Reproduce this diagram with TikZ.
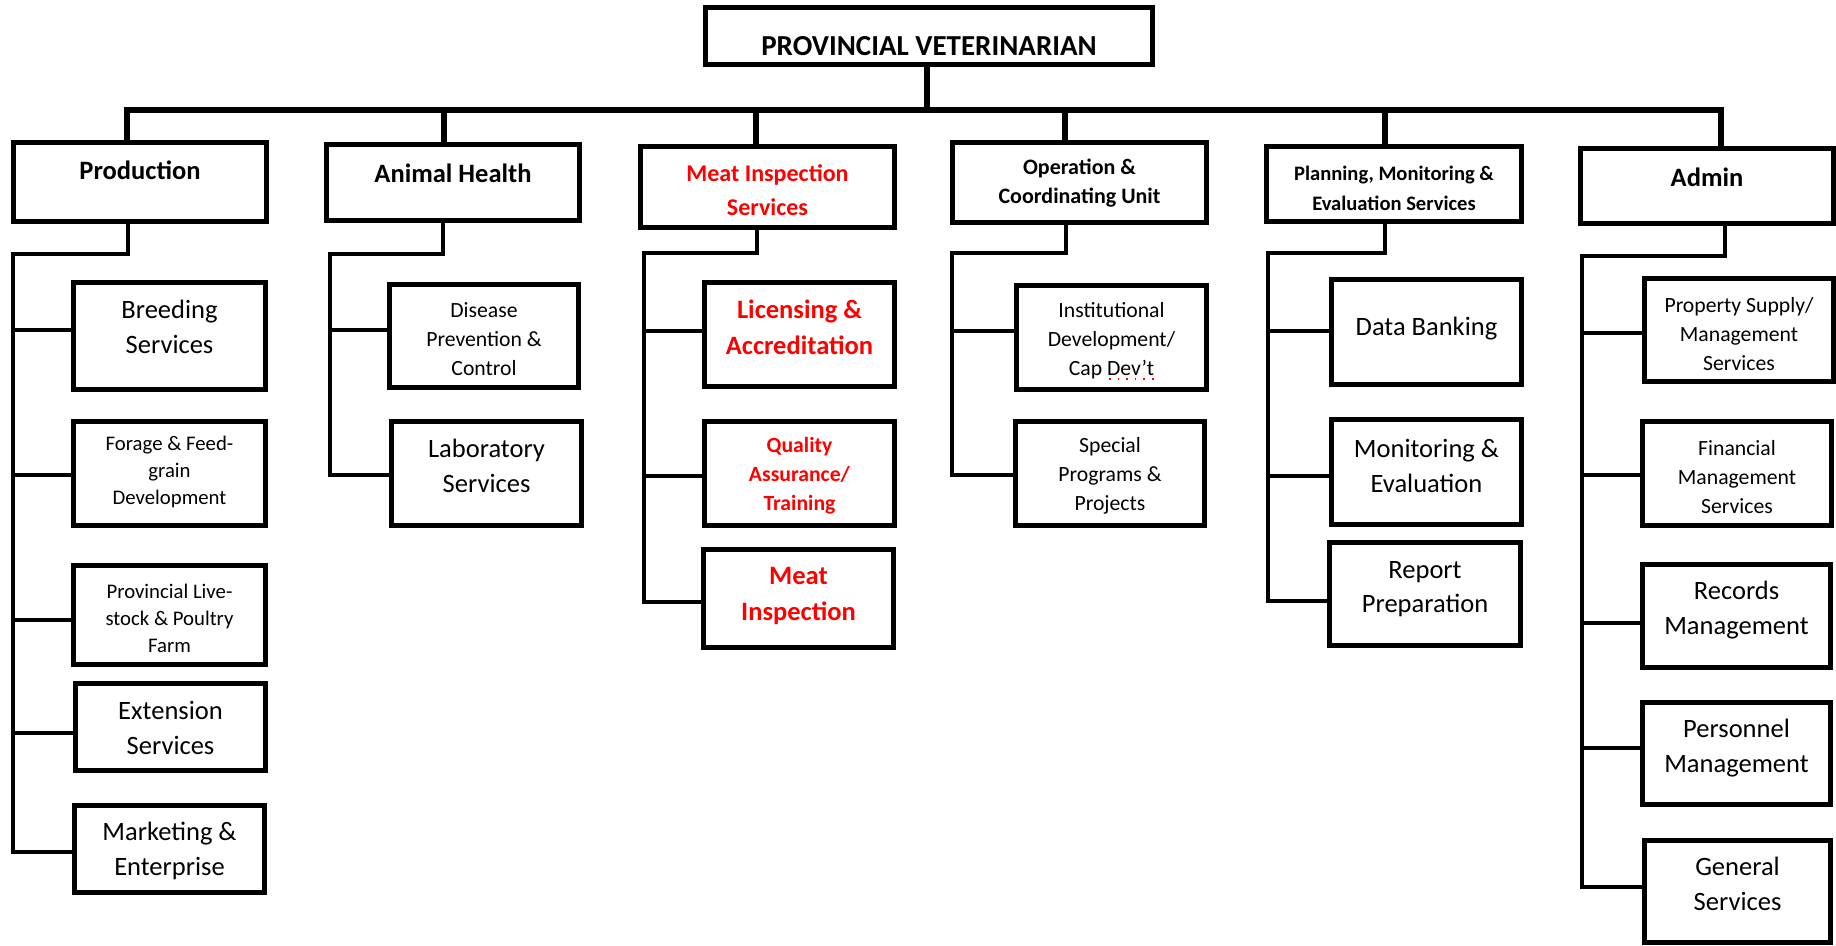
\documentclass[tikz,border=0pt]{standalone}
\usepackage{fontspec}
\setmainfont{Carlito}
\usetikzlibrary{fit}

\definecolor{alertred}{RGB}{255,0,0}

% box from outer corners: style, name, x1, y1, x2, y2 (pixel units, y downwards)
\newcommand\orgbox[6]{%
  \node[#1, fit={(#3+2.6,#4+2.6) (#5-2.6,#6-2.6)}] (#2) {};}

\tikzset{
  headbox/.style={draw, line width=1.5pt, inner sep=0pt, rectangle},
  unitbox/.style={draw, line width=1.42pt, inner sep=0pt, rectangle},
  trunk/.style={line width=1.45pt},
  branch/.style={line width=1.15pt},
  lbl/.style={align=center, inner sep=0pt, text=black},
  toplbl/.style={lbl, font=\bfseries\fontsize{8.25pt}{10pt}\selectfont},
  headA/.style={lbl, font=\bfseries\fontsize{7.54pt}{9.4pt}\selectfont},
  headB/.style={lbl, font=\bfseries\fontsize{6.83pt}{9.5pt}\selectfont},
  headC/.style={lbl, font=\bfseries\fontsize{6.26pt}{8.3pt}\selectfont},
  headD/.style={lbl, font=\bfseries\fontsize{5.85pt}{8.5pt}\selectfont},
  bigl/.style={lbl, font=\fontsize{7.54pt}{9.8pt}\selectfont},
  smalll/.style={lbl, font=\fontsize{6.17pt}{8.3pt}\selectfont},
  tinyl/.style={lbl, font=\fontsize{5.9pt}{7.7pt}\selectfont},
  redbig/.style={lbl, text=alertred, font=\bfseries\fontsize{7.54pt}{10.2pt}\selectfont},
  redsmall/.style={lbl, text=alertred, font=\bfseries\fontsize{6.17pt}{8.3pt}\selectfont},
}

\begin{document}
\begin{tikzpicture}[x=0.01cm, y=-0.01cm]
  \useasboundingbox (0,0) rectangle (1836,945);
  \fill[white] (0,0) rectangle (1836,945);

  % ---- head office ----
  \orgbox{headbox}{pv}{703}{5}{1155}{67}
  \node[toplbl] at (pv.center |- 0,46) {PROVINCIAL VETERINARIAN};

  % ---- divisions ----
  \orgbox{headbox}{prod}{11}{140}{269}{224}
  \orgbox{headbox}{anim}{324}{142}{582}{223}
  \orgbox{headbox}{meat}{638}{144}{897}{230}
  \orgbox{headbox}{oper}{950}{140}{1209}{225}
  \orgbox{headbox}{plan}{1264}{144}{1524}{224}
  \orgbox{headbox}{adm}{1578}{146}{1836}{226}

  \node[headA] at (prod.center |- 0,170) {Production};
  \node[headA] at (anim.center |- 0,173) {Animal Health};
  \node[headB, text=alertred] at (meat.center |- 0,190) {Meat Inspection\\Services};
  \node[headC] at (oper.center |- 0,183) {Operation \&\\Coordinating Unit};
  \node[headD] at (plan.center |- 0,188) {Planning, Monitoring \&\\Evaluation Services};
  \node[headA] at (adm.center |- 0,177) {Admin};

  % ---- sections: Production ----
  \orgbox{unitbox}{bre}{71}{280}{268}{392}
  \orgbox{unitbox}{forage}{71}{419}{268}{528}
  \orgbox{unitbox}{farm}{71}{563}{268}{667}
  \orgbox{unitbox}{ext}{73}{681}{268}{773}
  \orgbox{unitbox}{mkt}{72}{803}{267}{895}
  \node[bigl] at (bre.center |- 0,327) {Breeding\\Services};
  \node[tinyl] at (forage.center |- 0,472) {Forage \& Feed-\\grain\\Development};
  \node[tinyl] at (farm.center |- 0,618) {Provincial Live-\\stock \& Poultry\\Farm};
  \node[bigl] at (ext.center |- 0,728) {Extension\\Services};
  \node[bigl] at (mkt.center |- 0,851) {Marketing \&\\Enterprise};

  % ---- sections: Animal Health ----
  \orgbox{unitbox}{dis}{387}{282}{581}{390}
  \orgbox{unitbox}{lab}{389}{419}{584}{528}
  \node[smalll] at (dis.center |- 0,339) {Disease\\Prevention \&\\Control};
  \node[bigl] at (lab.center |- 0,466) {Laboratory\\Services};

  % ---- sections: Meat Inspection ----
  \orgbox{unitbox}{lic}{702}{280}{897}{389}
  \orgbox{unitbox}{qa}{702}{419}{897}{528}
  \orgbox{unitbox}{mi}{701}{547}{896}{650}
  \node[redbig] at (lic.center |- 0,327) {Licensing \&\\Accreditation};
  \node[redsmall] at (qa.center |- 0,476) {Quality\\Assurance/\\Training};
  \node[redbig] at (mi.center |- 0,596) {Meat\\Inspection};

  % ---- sections: Operation & Coordinating ----
  \orgbox{unitbox}{inst}{1014}{283}{1209}{392}
  \orgbox{unitbox}{spec}{1013}{419}{1207}{528}
  \node[smalll] at (inst.center |- 0,341) {Institutional\\Development/\\Cap Dev’t};
  \draw[alertred, dotted, line width=0.45pt] (1109,379) -- (1156,379);
  \node[smalll] at (spec.center |- 0,476) {Special\\Programs \&\\Projects};

  % ---- sections: Planning, Monitoring & Evaluation ----
  \orgbox{unitbox}{data}{1329}{277}{1524}{387}
  \orgbox{unitbox}{mon}{1329}{417}{1524}{527}
  \orgbox{unitbox}{rep}{1327}{540}{1523}{648}
  \node[bigl] at (data.center |- 0,329) {Data Banking};
  \node[bigl] at (mon.center |- 0,466) {Monitoring \&\\Evaluation};
  \node[bigl] at (rep.center |- 0,589) {Report\\Preparation};

  % ---- sections: Admin ----
  \orgbox{unitbox}{prop}{1642}{276}{1836}{384}
  \orgbox{unitbox}{fin}{1640}{419}{1834}{528}
  \orgbox{unitbox}{rec}{1640}{562}{1833}{670}
  \orgbox{unitbox}{per}{1640}{700}{1833}{807}
  \orgbox{unitbox}{gen}{1642}{838}{1833}{945}
  \node[smalll] at (prop.center |- 0,334) {Property Supply/\\Management\\Services};
  \node[smalll] at (fin.center |- 0,477) {Financial\\Management\\Services};
  \node[bigl] at (rec.center |- 0,610) {Records\\Management};
  \node[bigl] at (per.center |- 0,748) {Personnel\\Management};
  \node[bigl] at (gen.center |- 0,884) {General\\Services};

  % ---- main bus ----
  \coordinate (bus) at (927,110);
  \coordinate (c1) at (127,110);
  \coordinate (c2) at (444,110);
  \coordinate (c3) at (756,110);
  \coordinate (c4) at (1065,110);
  \coordinate (c5) at (1385,110);
  \coordinate (c6) at (1721,110);
  \draw[trunk] (pv.south -| bus) -- (bus);
  \draw[trunk] (prod.north -| c1) -- (c1) -- (c6) -- (adm.north -| c6);
  \draw[trunk] (c2) -- (anim.north -| c2);
  \draw[trunk] (c3) -- (meat.north -| c3);
  \draw[trunk] (c4) -- (oper.north -| c4);
  \draw[trunk] (c5) -- (plan.north -| c5);

  % ---- Production branches ----
  \draw[branch] (prod.south -| 128,0) |- (13,254) |- (mkt.west |- 0,852);
  \draw[branch] (13,330) -- (bre.west |- 0,330);
  \draw[branch] (13,475) -- (forage.west |- 0,475);
  \draw[branch] (13,620) -- (farm.west |- 0,620);
  \draw[branch] (13,733) -- (ext.west |- 0,733);

  % ---- Animal Health branches ----
  \draw[branch] (anim.south -| 443,0) |- (330,254) |- (lab.west |- 0,475);
  \draw[branch] (330,330) -- (dis.west |- 0,330);

  % ---- Meat Inspection branches ----
  \draw[branch] (meat.south -| 757,0) |- (644,253) |- (mi.west |- 0,602);
  \draw[branch] (644,331) -- (lic.west |- 0,331);
  \draw[branch] (644,476) -- (qa.west |- 0,476);

  % ---- Operation & Coordinating branches ----
  \draw[branch] (oper.south -| 1066,0) |- (952,253) |- (spec.west |- 0,475);
  \draw[branch] (952,331) -- (inst.west |- 0,331);

  % ---- Planning branches ----
  \draw[branch] (plan.south -| 1385,0) |- (1268,253) |- (rep.west |- 0,601);
  \draw[branch] (1268,331) -- (data.west |- 0,331);
  \draw[branch] (1268,476) -- (mon.west |- 0,476);

  % ---- Admin branches ----
  \draw[branch] (adm.south -| 1725,0) |- (1582,256) |- (gen.west |- 0,887);
  \draw[branch] (1582,333) -- (prop.west |- 0,333);
  \draw[branch] (1582,475) -- (fin.west |- 0,475);
  \draw[branch] (1582,623) -- (rec.west |- 0,623);
  \draw[branch] (1582,748) -- (per.west |- 0,748);
\end{tikzpicture}
\end{document}
